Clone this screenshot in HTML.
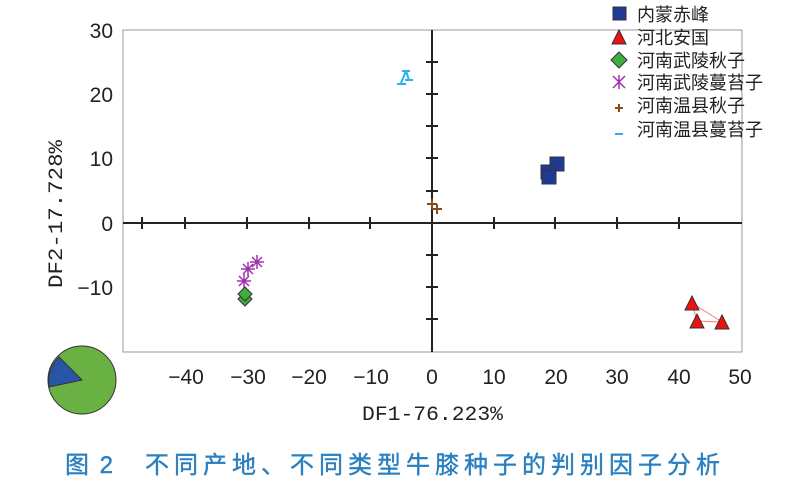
<!DOCTYPE html><html><head><meta charset="utf-8"><style>body{margin:0;background:#fff;width:800px;height:484px;overflow:hidden}</style></head><body>
<svg width="800" height="484" xmlns="http://www.w3.org/2000/svg" font-family="Liberation Sans, Noto Sans CJK SC, sans-serif">
<rect x="123" y="30" width="619" height="322" fill="none" stroke="#999" stroke-width="1"/>
<g stroke="#222" stroke-width="2">
<line x1="123" y1="223" x2="742" y2="223"/><line x1="432" y1="30" x2="432" y2="352"/>
<line x1="185" y1="217" x2="185" y2="229"/><line x1="247" y1="217" x2="247" y2="229"/><line x1="309" y1="217" x2="309" y2="229"/><line x1="370" y1="217" x2="370" y2="229"/><line x1="494" y1="217" x2="494" y2="229"/><line x1="555" y1="217" x2="555" y2="229"/><line x1="617" y1="217" x2="617" y2="229"/><line x1="679" y1="217" x2="679" y2="229"/><line x1="142" y1="217" x2="142" y2="229"/>
<line x1="426" y1="62" x2="438" y2="62"/><line x1="426" y1="94" x2="438" y2="94"/><line x1="426" y1="126" x2="438" y2="126"/><line x1="426" y1="158" x2="438" y2="158"/><line x1="426" y1="191" x2="438" y2="191"/><line x1="426" y1="255" x2="438" y2="255"/><line x1="426" y1="287" x2="438" y2="287"/><line x1="426" y1="319" x2="438" y2="319"/>
</g>
<g font-size="21" fill="#222" text-anchor="middle">
<text x="186" y="384">−40</text><text x="248" y="384">−30</text><text x="309" y="384">−20</text><text x="371" y="384">−10</text><text x="432" y="384">0</text><text x="494" y="384">10</text><text x="556" y="384">20</text><text x="617" y="384">30</text><text x="679" y="384">40</text><text x="740" y="384">50</text>
</g>
<g font-size="21" fill="#222" text-anchor="end">
<text x="113" y="38">30</text><text x="113" y="102">20</text><text x="113" y="166">10</text><text x="113" y="231">0</text><text x="113" y="295">−10</text>
</g>
<text x="362" y="420" font-size="20" fill="#222" textLength="141" lengthAdjust="spacingAndGlyphs" font-family="Liberation Mono, monospace">DF1-76.223%</text>
<text transform="translate(62,288) rotate(-90)" font-size="20" fill="#222" textLength="148" lengthAdjust="spacingAndGlyphs" font-family="Liberation Mono, monospace">DF2-17.728%</text>
<polygon points="692,303 697,321 722,322" fill="none" stroke="#f77" stroke-width="1"/>
<g fill="#e11" stroke="#333" stroke-width="1"><polygon points="692,296 685,310 699,310"/><polygon points="697,314 690,328 704,328"/><polygon points="722,315 715,329 729,329"/></g>
<g fill="#1f3a93" stroke="#334" stroke-width="1"><rect x="550" y="157" width="14" height="14"/><rect x="541" y="165" width="14" height="14"/><rect x="542" y="170" width="14" height="14"/></g>
<g stroke="#8b4a1a" stroke-width="2"><path d="M427 204h10M432 199v10M432 209h10M437 204v10"/></g>
<g stroke="#2ab0ea" stroke-width="2" fill="none"><path d="M402 71h8M406 71l-5 12M397 84h9M405 80h8M406 71l3 9"/></g>
<g stroke="#a030b0" stroke-width="1.5"><path d="M252 257l10 10M262 257l-10 10M257 255v14M250 262h14"/><path d="M243 264l10 10M253 264l-10 10M248 262v14M241 269h14"/><path d="M239 276l10 10M249 276l-10 10M244 274v14M237 281h14"/></g>
<g fill="#3fae3f" stroke="#333" stroke-width="1"><polygon points="245,292 252,299 245,306 238,299"/><polygon points="245,287 252,294 245,301 238,294"/></g>
<g font-size="18" fill="#222">
<rect x="613" y="7" width="13" height="13" fill="#1f3a93" stroke="#333"/><text x="637" y="21">内蒙赤峰</text>
<polygon points="619,30 612,44 626,44" fill="#e11" stroke="#333"/><text x="637" y="44">河北安国</text>
<polygon points="619,52 627,60 619,68 611,60" fill="#3fae3f" stroke="#333"/><text x="637" y="67">河南武陵秋子</text>
<path d="M613 76l12 12M625 76l-12 12M619 75v14" stroke="#a030b0" stroke-width="1.5"/><text x="637" y="89">河南武陵蔓苔子</text>
<path d="M615 108h8M619 104v8" stroke="#8b4a1a" stroke-width="2"/><text x="637" y="112">河南温县秋子</text>
<path d="M615 134h8" stroke="#2ab0ea" stroke-width="2"/><text x="637" y="136">河南温县蔓苔子</text>
</g>
<circle cx="82" cy="380" r="34" fill="#6ab143" stroke="#333" stroke-width="1"/>
<path d="M82 380L59 357A34 34 0 0 0 49 387Z" fill="#2855a5" stroke="#333" stroke-width="1"/>
<g font-size="24" fill="#2a7fc0" stroke="#2a7fc0" stroke-width="0.4">
<text x="65" y="473" textLength="48" lengthAdjust="spacing">图 2</text>
<text x="145" y="473" textLength="575" lengthAdjust="spacing">不同产地、不同类型牛膝种子的判别因子分析</text>
</g>
</svg></body></html>
